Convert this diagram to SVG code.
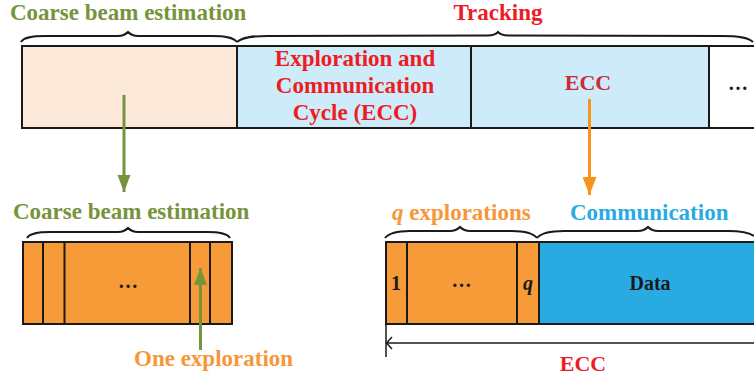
<svg xmlns="http://www.w3.org/2000/svg" width="754" height="379" viewBox="0 0 754 379">
<style>
text{font-family:"Liberation Serif","Times New Roman",serif;font-weight:bold;}
.green{fill:#77933C;font-size:23px;}
.red{fill:#ED1C24;font-size:23px;}
.orange{fill:#F7963A;font-size:23px;}
.blue{fill:#29ABE2;font-size:23px;}
.dark{fill:#1A1A1A;font-size:20px;}
.brace{fill:none;stroke:#1A1A1A;stroke-width:2;}
.cell{stroke:#1A1A1A;stroke-width:2;}
.div{stroke:#1A1A1A;stroke-width:2;}
</style>
<defs>
<marker id="ahGreen" viewBox="0 0 13 17" markerUnits="userSpaceOnUse" markerWidth="13" markerHeight="17" refX="17" refY="6.5" orient="auto">
<path d="M0,0 L17,6.5 L0,13 z" fill="#77933C"/>
</marker>
<marker id="ahOrange" viewBox="0 0 18 14" markerUnits="userSpaceOnUse" markerWidth="18" markerHeight="14" refX="18" refY="7" orient="auto">
<path d="M0,0 L18,7 L0,14 z" fill="#F7941D"/>
</marker>
</defs>

<!-- top labels -->
<g id="label-coarse-top"><text class="green" x="10" y="20">Coarse beam estimation</text></g>
<g id="label-tracking"><text class="red" x="498" y="20" text-anchor="middle">Tracking</text></g>
<g id="brace-top">
<path class="brace" d="M21,42 C24,37 32,36 45,36 L118,36 C124,36 126,34 128,32 C130,34 132,36 138,36 L212,36 C225,36 233,37 237,42"/>
<path class="brace" d="M237,42 C242,37 252,36 268,36 L488,35.5 C494,35.5 496,34 498,32 C500,34 502,35.5 508,35.5 L722,36 C738,36 748,37 753,42"/>
</g>

<!-- top bar -->
<g id="cell-coarse"><rect class="cell" x="22" y="46" width="215" height="82" fill="#FDE9D9"/></g>
<g id="cell-ecc1">
<rect class="cell" x="237" y="46" width="234" height="82" fill="#CDEBF8"/>
<text class="red" x="355" y="66" text-anchor="middle">Exploration and</text>
<text class="red" x="355" y="93" text-anchor="middle">Communication</text>
<text class="red" x="355" y="120" text-anchor="middle">Cycle (ECC)</text>
</g>
<g id="cell-ecc2">
<rect class="cell" x="471" y="46" width="238" height="82" fill="#CDEBF8"/>
<text x="588" y="90" text-anchor="middle" style="fill:#CB2A3A;font-size:22px">ECC</text>
</g>
<g id="cell-more">
<path class="cell" d="M755,46 L709,46 L709,128 L755,128" fill="#FFFFFF"/>
<text class="dark" x="738" y="90" text-anchor="middle">…</text>
</g>

<!-- bottom left -->
<g id="label-coarse-bottom"><text class="green" x="13" y="219">Coarse beam estimation</text></g>
<g id="brace-bl">
<path class="brace" d="M27,238 C30,233 38,232 50,232 L118,232 C124,232 126,230 128,228 C130,230 132,232 138,232 L207,232 C219,232 227,233 230,238"/>
</g>
<g id="box-coarse">
<rect class="cell" x="23" y="242" width="209" height="82" fill="#F79A38"/>
<line class="div" x1="43" y1="242" x2="43" y2="324"/>
<line class="div" x1="64.5" y1="242" x2="64.5" y2="324"/>
<line class="div" x1="190" y1="242" x2="190" y2="324"/>
<line class="div" x1="210" y1="242" x2="210" y2="324"/>
<text class="dark" x="128" y="288" text-anchor="middle">…</text>
</g>
<g id="label-one-exploration"><text class="orange" x="134" y="366">One exploration</text></g>

<!-- bottom right -->
<g id="label-q-explorations"><text class="orange" x="392" y="220"><tspan font-style="italic">q</tspan> explorations</text></g>
<g id="label-communication"><text class="blue" x="570" y="220">Communication</text></g>
<g id="brace-br">
<path class="brace" d="M385,238 C389,233 397,231 410,231 L450,231 C456,231 458,229 460,227 C462,229 464,231 470,231 L512,231 C525,231 533,233 537,238"/>
<path class="brace" d="M537,238 C541,233 550,231 564,231 L638,231 C644,231 646,229 648,227 C650,229 652,231 658,231 L728,231 C742,231 750,233 754,236"/>
</g>
<g id="box-ecc">
<rect class="cell" x="386" y="242" width="153" height="82" fill="#F79A38"/>
<path class="cell" d="M755,242 L539,242 L539,324 L755,324" fill="#29ABE2"/>
<line class="div" x1="407" y1="242" x2="407" y2="324"/>
<line class="div" x1="517" y1="242" x2="517" y2="324"/>
<text class="dark" x="396" y="290" text-anchor="middle">1</text>
<text class="dark" x="461.5" y="287" text-anchor="middle">…</text>
<text class="dark" x="528" y="290" text-anchor="middle" font-style="italic">q</text>
<text class="dark" x="650" y="290" text-anchor="middle">Data</text>
</g>
<g id="label-ecc-bottom"><text x="583" y="371" text-anchor="middle" style="fill:#ED1C24;font-size:22px">ECC</text></g>

<!-- connectors -->
<g id="connectors">
<line x1="124" y1="95" x2="124" y2="192" stroke="#77933C" stroke-width="3" marker-end="url(#ahGreen)"/>
<line x1="589.5" y1="99" x2="589.5" y2="195" stroke="#F7941D" stroke-width="3" marker-end="url(#ahOrange)"/>
<line x1="200.5" y1="350" x2="200.5" y2="268" stroke="#77933C" stroke-width="3" marker-end="url(#ahGreen)"/>
<line x1="386" y1="324" x2="386" y2="357" stroke="#1A1A1A" stroke-width="1.5"/>
<line x1="386" y1="343" x2="754" y2="343" stroke="#1A1A1A" stroke-width="1.5"/>
<path d="M392,337 L386.5,343 L392,349" fill="none" stroke="#1A1A1A" stroke-width="1.5"/>
</g>
</svg>
